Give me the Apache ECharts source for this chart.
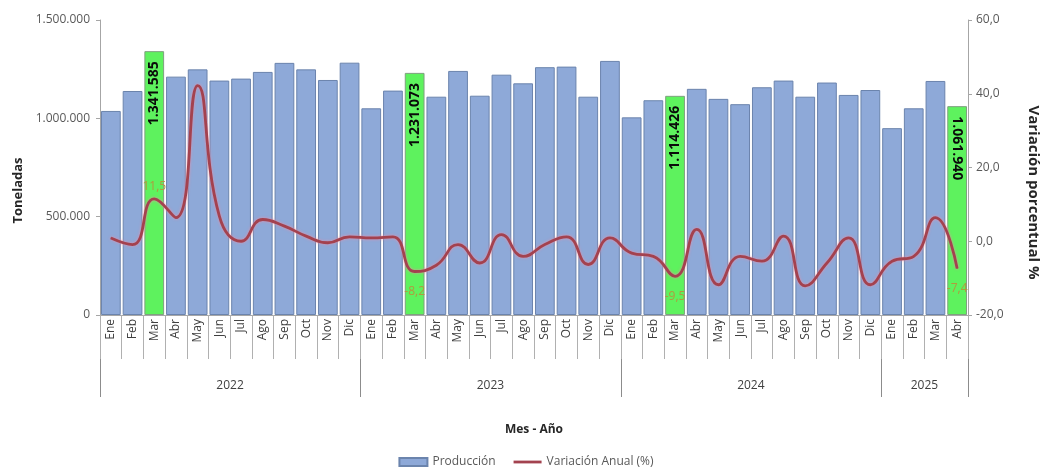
<!DOCTYPE html>
<html>
<head>
<meta charset="utf-8">
<script src="https://cdn.jsdelivr.net/npm/echarts@6/dist/echarts.min.js"></script>
<style>
html,body{margin:0;padding:0;background:#fff;}
#chart{width:1052px;height:468px;}
</style>
</head>
<body>
<div id="chart"></div>
<script>
const months = ['Ene','Feb','Mar','Abr','May','Jun','Jul','Ago','Sep','Oct','Nov','Dic',
  'Ene','Feb','Mar','Abr','May','Jun','Jul','Ago','Sep','Oct','Nov','Dic',
  'Ene','Feb','Mar','Abr','May','Jun','Jul','Ago','Sep','Oct','Nov','Dic',
  'Ene','Feb','Mar','Abr'];
const years = ['2022','2022','2022','2022','2022','2022','2022','2022','2022','2022','2022','2022',
  '2023','2023','2023','2023','2023','2023','2023','2023','2023','2023','2023','2023',
  '2024','2024','2024','2024','2024','2024','2024','2024','2024','2024','2024','2024',
  '2025','2025','2025','2025'];
const production = [1037600, 1139000, 1341585, 1212000, 1249000, 1192000, 1202000, 1236000, 1282000, 1249000, 1195000, 1283000,
  1051000, 1141000, 1231073, 1110000, 1241000, 1115000, 1222000, 1178000, 1260000, 1263000, 1110000, 1292000,
  1005000, 1092000, 1114426, 1150000, 1099000, 1072000, 1158000, 1192000, 1110000, 1182000, 1119000, 1144000,
  950000, 1051000, 1190000, 1061940];
const variation = [0.9, -0.9, 11.5, 6.4, 42.2, 6.8, 0.0, 5.9, 4.1, 1.4, -0.4, 1.2,
  0.9, 1.2, -8.2, -6.5, -0.9, -5.9, 1.8, -4.1, -0.9, 1.2, -6.3, 0.9,
  -3.2, -4.1, -9.5, 3.2, -11.8, -4.1, -5.4, 1.4, -12.1, -5.9, 0.9, -11.8,
  -5.4, -4.1, 6.4, -7.4];
const highlighted = [2, 14, 26, 39];
const yearLabelIdx = [6, 18, 30, 38];

const FONT = 'Open Sans';
const NONE = 'rgba(0,0,0,0)';
const fmtThousands = v => String(Math.round(v)).replace(/\B(?=(\d{3})+(?!\d))/g, '.');
const fmtPct = v => Number(v).toFixed(1).replace('.', ',');

const barData = production.map((v, i) => {
  if (highlighted.indexOf(i) < 0) return v;
  const last = i === production.length - 1;
  return {
    value: v,
    itemStyle: { color: '#5EF25E', borderColor: '#7FA07F' },
    label: {
      show: true,
      position: 'insideTop',
      distance: 10,
      rotate: last ? -90 : 90,
      align: last ? 'left' : 'right',
      verticalAlign: 'middle',
      formatter: p => fmtThousands(p.value),
      fontFamily: FONT, fontWeight: 'bold', fontSize: 14, color: '#0a0a0a'
    }
  };
});

const lineData = variation.map((v, i) => {
  if (highlighted.indexOf(i) < 0) return v;
  return {
    value: v,
    label: {
      show: true,
      position: v >= 0 ? 'top' : 'bottom',
      distance: v >= 0 ? 6 : 14,
      formatter: p => fmtPct(p.value),
      fontFamily: FONT, fontSize: 12, color: '#B19A3E'
    }
  };
});

const chart = echarts.init(document.getElementById('chart'), null, { renderer: 'canvas' });
chart.setOption({
  animation: false,
  textStyle: { fontFamily: FONT },
  grid: [
    { left: 100, right: 84, top: 20, bottom: 153, outerBoundsMode: 'none', containLabel: false },
    { left: 100, right: 84, top: 315, height: 82, outerBoundsMode: 'none', containLabel: false }
  ],
  legend: {
    top: 451, left: 'center',
    itemWidth: 28, itemHeight: 8, itemGap: 18,
    textStyle: { fontFamily: FONT, fontSize: 12, color: '#595959' },
    data: [
      { name: 'Producción', icon: 'rect' },
      { name: 'Variación Anual (%)', icon: 'path://M0,0H30V3H0Z' }
    ]
  },
  xAxis: [
    {
      type: 'category', gridIndex: 0, data: months, position: 'bottom',
      axisLine: { show: true, lineStyle: { color: '#a6a6a6' } },
      axisTick: { show: true, interval: 0, length: 44, lineStyle: { color: '#b0b0b0' } },
      axisLabel: { interval: 0, rotate: 90, margin: 4, fontSize: 12, color: '#404040', fontFamily: FONT }
    },
    {
      type: 'category', gridIndex: 1, data: years, position: 'bottom',
      axisLine: { show: false },
      axisTick: { show: false },
      splitLine: { show: true, interval: 11, lineStyle: { color: '#8c8c8c', width: 1 } },
      axisLabel: {
        inside: true,
        interval: i => yearLabelIdx.indexOf(i) >= 0,
        margin: 5, fontSize: 12, color: '#404040', fontFamily: FONT,
        padding: [0, 22, 0, 0]
      },
      name: 'Mes - Año', nameLocation: 'middle', nameGap: 27,
      nameTextStyle: { fontFamily: FONT, fontWeight: 'bold', fontSize: 12, color: '#262626' }
    }
  ],
  yAxis: [
    {
      type: 'value', gridIndex: 0, min: 0, max: 1500000, interval: 500000, position: 'left',
      splitLine: { show: false },
      axisLine: { show: true, lineStyle: { color: '#a6a6a6' } },
      axisTick: { show: true, length: 4, lineStyle: { color: '#a6a6a6' } },
      axisLabel: { formatter: fmtThousands, margin: 10, fontSize: 12, color: '#595959', fontFamily: FONT },
      name: 'Toneladas', nameLocation: 'middle', nameGap: 75, nameRotate: 90,
      nameTextStyle: { fontFamily: FONT, fontWeight: 'bold', fontSize: 13, color: '#262626', padding: [0, 46, 0, 0] }
    },
    {
      type: 'value', gridIndex: 0, min: -20, max: 60, interval: 20, position: 'right',
      splitLine: { show: false },
      axisLine: { show: true, lineStyle: { color: '#a6a6a6' } },
      axisTick: { show: true, length: 4, lineStyle: { color: '#a6a6a6' } },
      axisLabel: { formatter: fmtPct, margin: 8, fontSize: 12, color: '#595959', fontFamily: FONT },
      name: 'Variación porcentual %', nameLocation: 'middle', nameGap: 58, nameRotate: -90,
      nameTextStyle: { fontFamily: FONT, fontWeight: 'bold', fontSize: 15, color: '#262626', padding: [0, 0, 0, 50] }
    },
    {
      type: 'value', gridIndex: 1, show: false, min: 0, max: 1, interval: 1,
      axisLine: { show: false }, axisTick: { show: false }, axisLabel: { show: false },
      splitLine: { show: false, lineStyle: { color: NONE } }
    }
  ],
  series: [
    {
      name: 'Producción', type: 'bar', xAxisIndex: 0, yAxisIndex: 0,
      data: barData, barCategoryGap: '9%',
      itemStyle: { color: '#8EA9D8', borderColor: '#6B84AD', borderWidth: 1 },
      z: 2
    },
    {
      name: 'Variación Anual (%)', type: 'line', xAxisIndex: 0, yAxisIndex: 1,
      data: lineData, smooth: 0.5,
      symbol: 'circle', symbolSize: 1, showSymbol: true, showAllSymbol: true,
      itemStyle: { color: '#A3424F' },
      lineStyle: { color: '#A3424F', width: 2.8, shadowColor: 'rgba(235,140,165,0.9)', shadowBlur: 3 },
      z: 3
    }
  ]
});
</script>
</body>
</html>
